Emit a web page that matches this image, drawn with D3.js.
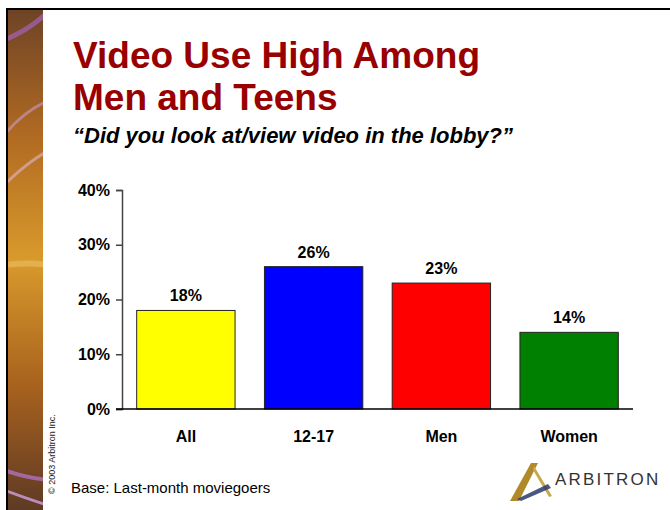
<!DOCTYPE html>
<html>
<head>
<meta charset="utf-8">
<script src="https://cdn.jsdelivr.net/npm/d3@7"></script>
<style>
  html, body { margin: 0; padding: 0; background: #fff; }
  svg { display: block; font-family: Arial, "Liberation Sans", sans-serif; }
</style>
</head>
<body>
<div id="chart"></div>
<script>
var categories = ['All', '12-17', 'Men', 'Women'];
var values = [18, 26, 23, 14];
var barColors = ['#ffff00', '#0000ff', '#ff0000', '#008000'];
var yTicks = [0, 10, 20, 30, 40];

var W = 670, H = 510;

var svg = d3.select('#chart').append('svg')
  .attr('width', W)
  .attr('height', H);

// left decorative strip
var defs = svg.append('defs');
var grad = defs.append('linearGradient')
  .attr('id', 'strip').attr('x1', 0).attr('y1', 0).attr('x2', 0).attr('y2', 1);
grad.append('stop').attr('offset', '0%').attr('stop-color', '#6e4326');
grad.append('stop').attr('offset', '25%').attr('stop-color', '#b06a22');
grad.append('stop').attr('offset', '50%').attr('stop-color', '#d99a2c');
grad.append('stop').attr('offset', '75%').attr('stop-color', '#a8621e');
grad.append('stop').attr('offset', '100%').attr('stop-color', '#5e3a24');
var clip = defs.append('clipPath').attr('id', 'stripclip');
clip.append('rect').attr('x', 8).attr('y', 10).attr('width', 35).attr('height', H - 10);

svg.append('rect')
  .attr('x', 8).attr('y', 10).attr('width', 35).attr('height', H - 10)
  .attr('fill', 'url(#strip)');
var arcs = svg.append('g').attr('clip-path', 'url(#stripclip)')
  .attr('fill', 'none');
arcs.append('path').attr('d', 'M4,40 Q30,30 50,10').attr('stroke', '#a05fa8').attr('stroke-width', 5).attr('opacity', 0.8);
arcs.append('path').attr('d', 'M4,135 Q25,110 50,100').attr('stroke', '#c99ac4').attr('stroke-width', 3).attr('opacity', 0.6);
arcs.append('path').attr('d', 'M4,185 Q30,160 50,150').attr('stroke', '#e0b8d0').attr('stroke-width', 3).attr('opacity', 0.6);
arcs.append('path').attr('d', 'M4,265 Q28,262 50,265').attr('stroke', '#f0c870').attr('stroke-width', 6).attr('opacity', 0.5);
arcs.append('path').attr('d', 'M4,470 Q25,478 50,480').attr('stroke', '#b070c0').attr('stroke-width', 4).attr('opacity', 0.8);
arcs.append('path').attr('d', 'M4,490 Q25,498 50,506').attr('stroke', '#d0a0e0').attr('stroke-width', 3).attr('opacity', 0.8);

// frame
svg.append('line').attr('x1', 6).attr('x2', W).attr('y1', 9).attr('y2', 9)
  .attr('stroke', '#000').attr('stroke-width', 2);
svg.append('line').attr('x1', 7).attr('x2', 7).attr('y1', 8).attr('y2', H)
  .attr('stroke', '#000').attr('stroke-width', 2);

// titles
svg.append('text').attr('x', 73).attr('y', 68)
  .attr('font-size', 37).attr('font-weight', 'bold').attr('fill', '#990000')
  .text('Video Use High Among');
svg.append('text').attr('x', 73).attr('y', 110)
  .attr('font-size', 37).attr('font-weight', 'bold').attr('fill', '#990000')
  .text('Men and Teens');
svg.append('text').attr('x', 73).attr('y', 143)
  .attr('font-size', 22).attr('font-weight', 'bold').attr('font-style', 'italic')
  .attr('fill', '#000')
  .text('\u201CDid you look at/view video in the lobby?\u201D');

// scales
var x = d3.scaleBand()
  .domain(categories)
  .range([122, 633])
  .paddingInner(0.23)
  .paddingOuter(0.115);

var y = d3.scaleLinear()
  .domain([0, 40])
  .range([409, 190]);

// y axis
var yAxis = svg.append('g')
  .attr('transform', 'translate(122,0)')
  .call(d3.axisLeft(y).tickValues(yTicks).tickSize(6).tickPadding(6)
    .tickFormat(function (d) { return d + '%'; }));
yAxis.select('.domain').attr('stroke', '#444').attr('stroke-width', 1.5);
yAxis.selectAll('.tick line').attr('stroke', '#444').attr('stroke-width', 1.5);
yAxis.selectAll('.tick text')
  .attr('font-size', 16).attr('font-weight', 'bold').attr('fill', '#000')
  .attr('font-family', 'Arial, "Liberation Sans", sans-serif');

// bars
var bars = svg.append('g');
bars.selectAll('rect')
  .data(values)
  .enter().append('rect')
  .attr('x', function (d, i) { return x(categories[i]); })
  .attr('y', function (d) { return y(d); })
  .attr('width', x.bandwidth())
  .attr('height', function (d) { return y(0) - y(d); })
  .attr('fill', function (d, i) { return barColors[i]; })
  .attr('stroke', '#222')
  .attr('stroke-width', 1);

bars.selectAll('text.val')
  .data(values)
  .enter().append('text')
  .attr('class', 'val')
  .attr('x', function (d, i) { return x(categories[i]) + x.bandwidth() / 2; })
  .attr('y', function (d) { return y(d) - 9; })
  .attr('text-anchor', 'middle')
  .attr('font-size', 16).attr('font-weight', 'bold')
  .text(function (d) { return d + '%'; });

// baseline
svg.append('line')
  .attr('x1', 116).attr('x2', 633)
  .attr('y1', y(0)).attr('y2', y(0))
  .attr('stroke', '#000').attr('stroke-width', 1.5);

// category labels
svg.append('g').selectAll('text')
  .data(categories)
  .enter().append('text')
  .attr('x', function (d) { return x(d) + x.bandwidth() / 2; })
  .attr('y', 442)
  .attr('text-anchor', 'middle')
  .attr('font-size', 16).attr('font-weight', 'bold')
  .text(function (d) { return d; });

// footer
svg.append('text').attr('x', 71).attr('y', 493)
  .attr('font-size', 15).attr('fill', '#000')
  .text('Base: Last-month moviegoers');

svg.append('text')
  .attr('transform', 'translate(55,494) rotate(-90)')
  .attr('font-size', 9).attr('fill', '#222')
  .text('\u00A9 2003 Arbitron Inc.');

// logo
var logo = svg.append('g');
logo.append('path')
  .attr('d', 'M510,501 L531,463 L538,463 L519,501 Z')
  .attr('fill', '#b08a2a');
logo.append('path')
  .attr('d', 'M534,466 L552,496 L549,497 L533,470 Z')
  .attr('fill', '#c8a850');
logo.append('path')
  .attr('d', 'M517,499 L548,484 L551,488 L521,501 Z')
  .attr('fill', '#2a3a6a').attr('opacity', 0.85);
logo.append('text')
  .attr('x', 555).attr('y', 485)
  .attr('font-size', 17).attr('fill', '#333')
  .attr('letter-spacing', 2.2)
  .text('ARBITRON');
</script>
</body>
</html>
